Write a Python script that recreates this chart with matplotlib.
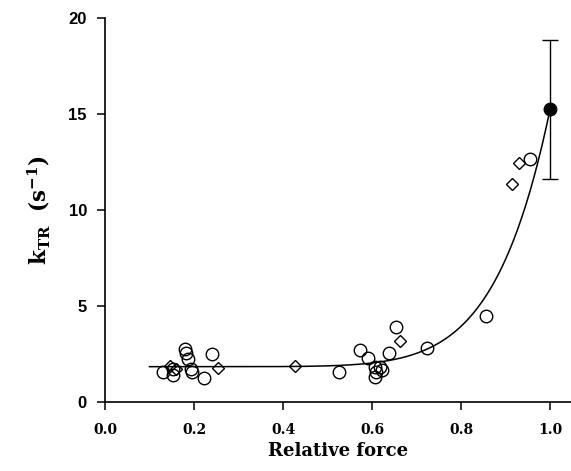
import numpy as np
import matplotlib
matplotlib.use('Agg')
import matplotlib.pyplot as plt

plt.rcParams['font.family'] = 'DejaVu Serif'
plt.rcParams['mathtext.fontset'] = 'dejavuserif'

# Open circles (relative force, kTR in 1/s)
circle_x = [0.131, 0.152, 0.152, 0.180, 0.181, 0.187, 0.193, 0.195, 0.223,
            0.240, 0.526, 0.573, 0.590, 0.607, 0.609, 0.607, 0.618, 0.622,
            0.637, 0.654, 0.724, 0.855, 0.955]
circle_y = [1.58, 1.70, 1.40, 2.74, 2.57, 2.22, 1.70, 1.58, 1.23,
            2.50, 1.58, 2.71, 2.27, 1.84, 1.58, 1.32, 1.84, 1.67,
            2.57, 3.92, 2.79, 4.48, 12.66]

# Open diamonds
diamond_x = [0.145, 0.160, 0.253, 0.427, 0.663, 0.914, 0.930]
diamond_y = [1.87, 1.72, 1.79, 1.87, 3.19, 11.34, 12.47]

# Filled point at full force with error bar
max_x = [1.0]
max_y = [15.25]
max_err = [3.62]

# Fitted curve y = a + b * x**n, drawn from x = 0.1 to 1.0
fit_a = 1.84
fit_b = 13.41
fit_n = 8.3

x_ticks = [0.0, 0.2, 0.4, 0.6, 0.8, 1.0]
y_ticks = [0, 5, 10, 15, 20]

fig = plt.figure(figsize=(5.71, 4.71), dpi=100)
ax = fig.add_axes([105 / 571, 69 / 471, 466 / 571, 384 / 471])

xf = np.linspace(0.1, 1.0, 300)
ax.plot(xf, fit_a + fit_b * xf ** fit_n, color='black', lw=1.1, zorder=2)

ax.plot(circle_x, circle_y, 'o', ms=9, mfc='none', mec='black', mew=1.0,
        zorder=3)
ax.plot(diamond_x, diamond_y, 'D', ms=6.0, mfc='none', mec='black', mew=1.0,
        zorder=3)
ax.errorbar(max_x, max_y, yerr=max_err, fmt='o', ms=9, mfc='black',
            mec='black', ecolor='black', elinewidth=1.0, capsize=5.5,
            capthick=1.0, zorder=4)

ax.set_xlim(0, 1.047)
ax.set_ylim(0, 20)
ax.set_xticks(x_ticks)
ax.set_yticks(y_ticks)
ax.set_xticklabels(['%.1f' % v for v in x_ticks], fontsize=10,
                   fontweight='bold', family='DejaVu Serif')
ax.set_yticklabels([str(v) for v in y_ticks], fontsize=12,
                   fontweight='bold', family='Liberation Sans')
ax.tick_params(axis='x', direction='out', length=6, width=1.1, pad=9)
ax.tick_params(axis='y', direction='out', length=6, width=1.1, pad=7)

for side in ['top', 'right']:
    ax.spines[side].set_visible(False)
for side in ['left', 'bottom']:
    ax.spines[side].set_linewidth(1.2)

ax.set_xlabel('Relative force', fontsize=13, fontweight='bold', labelpad=4)
ax.set_ylabel(r'$\mathbf{k}_{\mathbf{TR}}\ \ \mathbf{(s}^{\mathbf{-1}}\mathbf{)}$',
              fontsize=15.5, labelpad=12)

fig.savefig('out.png', dpi=100)
